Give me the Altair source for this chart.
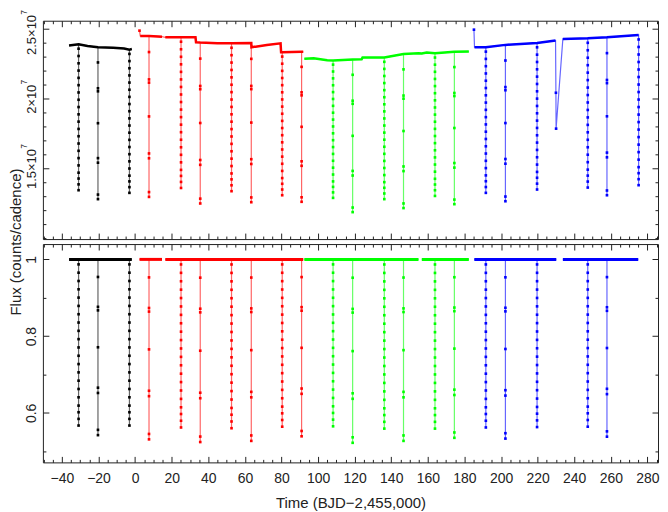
import altair as alt
import pandas as pd

# ---------------- data ----------------
QUARTERS = ["Q1", "Q2", "Q3", "Q4"]
COLORS = ["#000000", "#ff0000", "#00ff00", "#0000ff"]

# Top panel: raw flux knots (units of 1e7 counts/cadence); seg = -1 marks isolated points
q1_time = [-36.1, -30.9, -26.0, -20.3, -12.0, -6.0, -3.1, -1.8]
q1_flux = [2.381, 2.390, 2.378, 2.369, 2.366, 2.360, 2.352, 2.356]
q1_seg = [0, 0, 0, 0, 0, 0, 0, 0]

q2_time = [2.4, 2.8, 7.6, 14.7, 16.5, 25.1, 33.0, 33.3, 35.6, 45.0, 52.7, 63.5, 63.6,
           72.0, 79.5, 79.8, 80.4, 91.0, 91.9]
q2_flux = [2.488, 2.450, 2.450, 2.445, 2.440, 2.441, 2.441, 2.405, 2.403, 2.398, 2.397,
           2.400, 2.369, 2.385, 2.397, 2.333, 2.333, 2.336, 2.336]
q2_seg = [-1, 0, 0, 0, 1, 1, 1, 1, 1, 1, 1, 1, 1, 1, 1, 1, 1, 1, 1]

q3_time = [92.5, 97.6, 105.0, 108.2, 118.9, 123.8, 124.3, 136.2, 146.7, 154.9, 156.7,
           159.4, 163.9, 174.5, 182.4]
q3_flux = [2.286, 2.290, 2.276, 2.274, 2.281, 2.283, 2.295, 2.295, 2.321, 2.326, 2.324,
           2.331, 2.326, 2.336, 2.338]
q3_seg = [0, 0, 0, 0, 0, 0, 0, 0, 0, 0, 0, 0, 0, 0, 0]

q4_time = [185.2, 185.5, 191.7, 202.4, 219.7, 229.8, 230.0, 230.1, 233.8, 247.4, 257.9, 275.2]
q4_flux = [2.495, 2.369, 2.369, 2.386, 2.400, 2.417, 2.043, 1.786, 2.429, 2.433, 2.440, 2.457]
q4_seg = [-1, 0, 0, 0, 0, 0, -1, -1, 1, 1, 1, 1]

# Eclipses: time, quarter, raw minimum (1e7), normalised minimum, dot density
ecl_time = [-30.9, -20.3, -3.1, 7.6, 25.1, 35.6, 52.7, 63.5, 80.4, 91.0, 108.2, 118.9,
            136.2, 146.7, 163.9, 174.5, 191.7, 202.4, 219.7, 247.4, 257.9, 275.2]
ecl_quarter = ["Q1"] * 3 + ["Q2"] * 7 + ["Q3"] * 6 + ["Q4"] * 6
ecl_raw_min = [1.345, 1.281, 1.326, 1.297, 1.361, 1.250, 1.338, 1.259, 1.309, 1.262, 1.290,
               1.188, 1.281, 1.217, 1.304, 1.245, 1.326, 1.266, 1.350, 1.364, 1.309, 1.381]
ecl_norm_min = [0.567, 0.542, 0.567, 0.531, 0.562, 0.524, 0.560, 0.527, 0.564, 0.539, 0.565,
                0.522, 0.559, 0.527, 0.559, 0.535, 0.562, 0.533, 0.563, 0.564, 0.538, None]
ecl_kind = ["d", "s", "d", "s", "d", "s", "d", "s", "d", "s", "d", "s",
            "d", "s", "d", "s", "d", "s", "d", "d", "s", "d"]

# fraction of the eclipse depth at which samples sit along each dip
dense_levels = [0.03, 0.08, 0.13, 0.18, 0.23, 0.28, 0.33, 0.38, 0.43, 0.48, 0.53,
                0.58, 0.63, 0.68, 0.73, 0.78, 0.83, 0.88, 0.92, 0.96, 1.0]
sparse_levels = [0.10, 0.27, 0.29, 0.50, 0.73, 0.76, 0.97, 1.0]

# Bottom panel: normalised light-curve segments (flux = 1 out of eclipse)
norm_seg_quarter = ["Q1", "Q2", "Q2", "Q3", "Q3", "Q4", "Q4"]
norm_seg_start = [-36.1, 2.4, 16.5, 92.5, 156.7, 185.4, 233.8]
norm_seg_end = [-1.8, 14.7, 91.9, 154.9, 182.4, 230.2, 275.0]
norm_level = 1.0

# axes
X_DOMAIN = [-50.4, 285.8]
X_MAJOR = [-40, -20, 0, 20, 40, 60, 80, 100, 120, 140, 160, 180, 200, 220, 240, 260, 280]
X_MINOR = [v for v in range(-50, 286, 5) if v % 20 != 0]
TOP_DOMAIN = [0.995, 2.559]
TOP_MAJOR = [1.5, 2.0, 2.5]
TOP_MINOR = [1.0, 1.1, 1.2, 1.3, 1.4, 1.6, 1.7, 1.8, 1.9, 2.1, 2.2, 2.3, 2.4]
BOT_DOMAIN = [0.471, 1.040]
BOT_MAJOR = [0.6, 0.8, 1.0]
BOT_MINOR = [0.5, 0.7, 0.9]

# ---------------- build tables ----------------
W, H = 617, 219
FRAME = "#222222"
FONT = "Liberation Sans"

raw = {"Q1": (q1_time, q1_flux, q1_seg), "Q2": (q2_time, q2_flux, q2_seg),
       "Q3": (q3_time, q3_flux, q3_seg), "Q4": (q4_time, q4_flux, q4_seg)}

thin_top, thick_top, pts_top = [], [], []
order = 0
for q in QUARTERS:
    ts, fs, segs = raw[q]
    here = {t: i for i, (t, qq) in enumerate(zip(ecl_time, ecl_quarter)) if qq == q}
    for t, f, s in zip(ts, fs, segs):
        thin_top.append(dict(t=t, f=f, q=q, g=q, o=order)); order += 1
        if s >= 0:
            thick_top.append(dict(t=t, f=f, q=q, g=f"{q}-{s}"))
        else:
            pts_top.append(dict(t=t, f=f, q=q))
        if t in here:
            i = here[t]
            fmin = ecl_raw_min[i]
            thin_top.append(dict(t=t, f=fmin, q=q, g=q, o=order)); order += 1
            thin_top.append(dict(t=t, f=f, q=q, g=q, o=order)); order += 1
            levels = dense_levels if ecl_kind[i] == "d" else sparse_levels
            for lev in levels:
                pts_top.append(dict(t=t, f=f - lev * (f - fmin), q=q))

thin_bot, thick_bot, pts_bot = [], [], []
order = 0
for k, (q, s0, s1) in enumerate(zip(norm_seg_quarter, norm_seg_start, norm_seg_end)):
    g = f"{q}-{k}"
    thin_bot.append(dict(t=s0, f=norm_level, q=q, g=g, o=order)); order += 1
    thick_bot.append(dict(t=s0, f=norm_level, q=q, g=g))
    for i, te in enumerate(ecl_time):
        if ecl_quarter[i] == q and s0 < te < s1 and ecl_norm_min[i] is not None:
            fmin = ecl_norm_min[i]
            for fv in (norm_level, fmin, norm_level):
                thin_bot.append(dict(t=te, f=fv, q=q, g=g, o=order)); order += 1
            levels = dense_levels if ecl_kind[i] == "d" else sparse_levels
            for lev in levels:
                pts_bot.append(dict(t=te, f=norm_level - lev * (norm_level - fmin), q=q))
    thin_bot.append(dict(t=s1, f=norm_level, q=q, g=g, o=order)); order += 1
    thick_bot.append(dict(t=s1, f=norm_level, q=q, g=g))


# ---------------- chart ----------------
def tick_axis(orient, values, size):
    off = -H if orient in ("top", "bottom") else -W
    return alt.Axis(orient=orient, offset=off, values=values, tickSize=size, tickColor=FRAME,
                    tickWidth=1, labels=False, domain=False, grid=False, title=None,
                    minExtent=0, maxExtent=0)


def xe(ax):
    return alt.X("t:Q", scale=alt.Scale(domain=X_DOMAIN, nice=False, zero=False), axis=ax)


def panel(thin, thick, pts, ydom, ymaj, ymin, xlab_axis, ylab_axis, thick_w, extra_y=None):
    def ye(ax):
        return alt.Y("f:Q", scale=alt.Scale(domain=ydom, nice=False, zero=False), axis=ax)

    color = alt.Color("q:N", scale=alt.Scale(domain=QUARTERS, range=COLORS), legend=None)
    l1 = alt.Chart(pd.DataFrame(thin)).mark_line(strokeWidth=1.2, opacity=0.6).encode(
        x=xe(xlab_axis), y=ye(ylab_axis), color=color, detail="g:N", order="o:Q")
    l2 = alt.Chart(pd.DataFrame(thick)).mark_line(strokeWidth=thick_w).encode(
        x=xe(tick_axis("top", X_MAJOR, 6)), y=ye(tick_axis("right", ymaj, 6)),
        color=color, detail="g:N")
    l3 = alt.Chart(pd.DataFrame(pts)).mark_point(shape="square", filled=True, size=7, opacity=1).encode(
        x=xe(tick_axis("top", X_MINOR, 3)), y=ye(tick_axis("right", ymin, 3)), color=color)
    dummy = pd.DataFrame({"t": [0.0], "f": [ydom[0]]})
    l4 = alt.Chart(dummy).mark_point(opacity=0).encode(
        x=xe(tick_axis("bottom", X_MAJOR, 6)), y=ye(tick_axis("left", ymaj, 6)))
    l5 = alt.Chart(dummy).mark_point(opacity=0).encode(
        x=xe(tick_axis("bottom", X_MINOR, 3)), y=ye(tick_axis("left", ymin, 3)))
    layers = [l1, l2, l3, l4, l5]
    if extra_y is not None:
        layers.append(alt.Chart(dummy).mark_point(opacity=0).encode(x=xe(None), y=ye(extra_y)))
    return alt.layer(*layers).resolve_axis(
        x="independent", y="independent").properties(width=W, height=H)


# mantissa part of the top labels ("2.5×10"), centred on the tick
top_ylab = alt.Axis(orient="left", values=TOP_MAJOR, ticks=False, tickSize=0, domain=False,
                    grid=False, labelExpr="format(datum.value, '.2~f') + '×10'",
                    labelAngle=270, labelAlign="center", labelBaseline="alphabetic",
                    labelPadding=7, labelFontSize=13, labelFont=FONT, labelColor=FRAME,
                    labelOffset={"condition": {"test": "datum.value == 2.5", "value": 5.5},
                                 "value": 0},
                    title=None)
# exponent "7" written as a raised, smaller label after the mantissa
top_yexp = alt.Axis(orient="left", values=TOP_MAJOR, ticks=False, tickSize=0, domain=False,
                    grid=False, labelExpr="'7'", labelAngle=270, labelAlign="left",
                    labelBaseline="alphabetic", labelPadding=16, labelFontSize=8.5,
                    labelFont=FONT, labelColor=FRAME,
                    labelOffset={"condition": [{"test": "datum.value == 2", "value": -14.9},
                                               {"test": "datum.value == 2.5", "value": -14.8}],
                                 "value": -20.3},
                    title=None)
bot_ylab = alt.Axis(orient="left", values=BOT_MAJOR, ticks=False, tickSize=0, domain=False,
                    grid=False, format="~g", labelAngle=270, labelAlign="center",
                    labelBaseline="alphabetic", labelPadding=7, labelFontSize=14,
                    labelFont=FONT, labelColor=FRAME,
                    title="Flux (counts/cadence)", titleAngle=270, titleAlign="center",
                    titleBaseline="top", titleX=-34, titleY=-2.5, titleFontSize=15,
                    titleFont=FONT, titleFontWeight="normal", titleColor=FRAME)
bot_xlab = alt.Axis(orient="bottom", values=X_MAJOR, ticks=False, tickSize=0, domain=False,
                    grid=False, format="d", labelPadding=9, labelFontSize=14, labelFont=FONT,
                    labelColor=FRAME, title="Time (BJD−2,455,000)", titleY=33,
                    titleBaseline="top", titleFontSize=15, titleFont=FONT,
                    titleFontWeight="normal", titleColor=FRAME)

top = panel(thin_top, thick_top, pts_top, TOP_DOMAIN, TOP_MAJOR, TOP_MINOR, None, top_ylab, 2.5,
            extra_y=top_yexp)
bottom = panel(thin_bot, thick_bot, pts_bot, BOT_DOMAIN, BOT_MAJOR, BOT_MINOR, bot_xlab, bot_ylab, 3)

chart = alt.vconcat(top, bottom, spacing=5, bounds="flush").properties(
    padding={"left": 0, "top": 0, "right": 0, "bottom": 0},
    background="white",
).configure(
    font=FONT,
    view=alt.ViewConfig(stroke=FRAME, strokeWidth=1),
)

chart.save("out.html", embed_options={"renderer": "svg", "actions": False})
